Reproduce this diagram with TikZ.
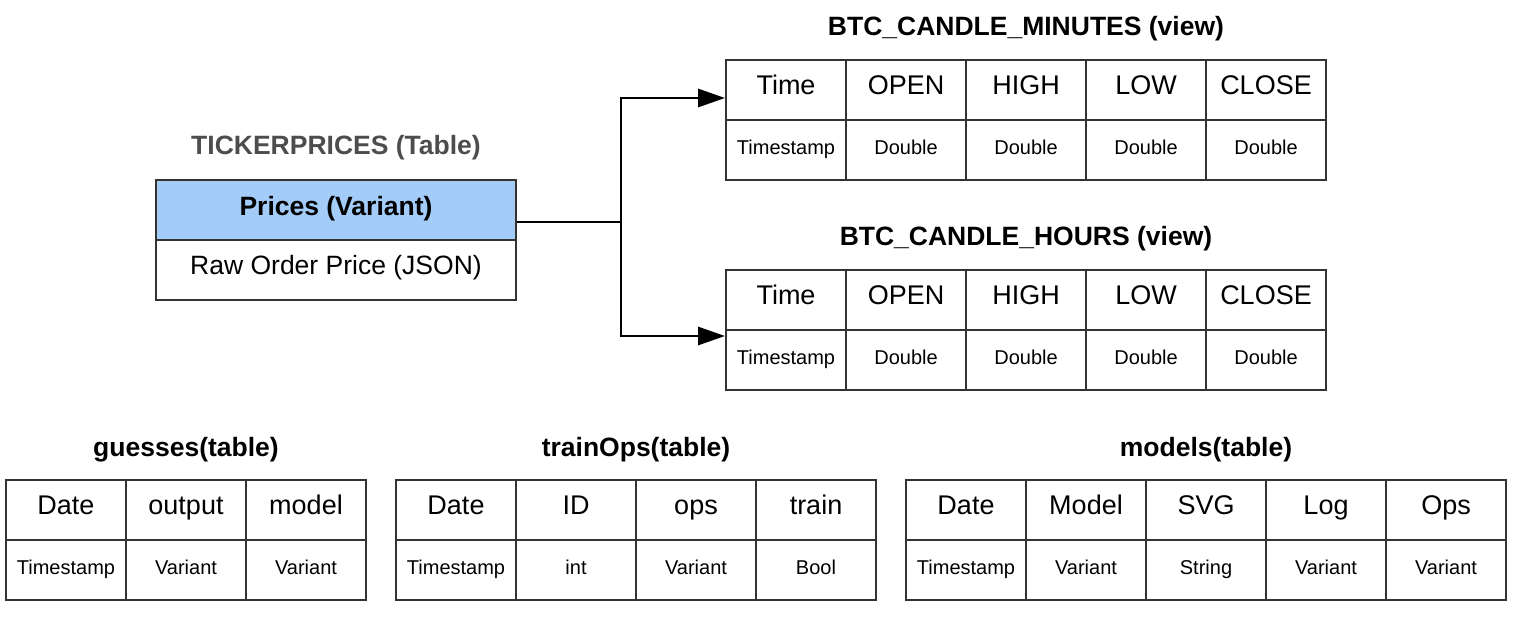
\documentclass[tikz,border=0pt]{standalone}
\usepackage{fontspec}
\setmainfont{Liberation Sans}
\usetikzlibrary{arrows.meta}
\definecolor{gridline}{HTML}{333333}
\definecolor{rowblue}{HTML}{A4CCF9}
\definecolor{titlegray}{HTML}{4D4D4D}

% one table: name, left x, top y, list of column/type pairs
\newcommand\dbtable[4]{%
  \foreach \h/\t [count=\i from 0] in {#4}{%
    \node[headcell] (#1-h\i) at ({#2+60+120*\i},{#3+30}) {\h};
    \node[typecell] (#1-t\i) at ({#2+60+120*\i},{#3+90}) {\t};
  }}

\begin{document}
\begin{tikzpicture}[x=1pt,y=-1pt,
  cell/.style={draw=gridline,line width=1.9pt,rectangle,inner sep=0pt,
    minimum width=120pt,minimum height=60pt,text height=20pt,text depth=12pt},
  headcell/.style={cell,font=\fontsize{27}{31}\selectfont},
  typecell/.style={cell,font=\fontsize{20}{24}\selectfont},
  tabletitle/.style={anchor=base,inner sep=0pt,font=\bfseries\fontsize{26.5}{30}\selectfont},
  wire/.style={line width=2.9pt,black},
  link/.style={wire,-{Triangle[length=27pt,width=18pt]}},
]
\useasboundingbox (0,0) rectangle (1514,616);

% source table
\node[tabletitle,text=titlegray,font=\bfseries\fontsize{26.5}{30}\selectfont]
  (tptitle) at (336,154) {TICKERPRICES (Table)};
\node[cell,fill=rowblue,minimum width=360pt,text height=22pt,text depth=12pt,
  font=\bfseries\fontsize{26.5}{30}\selectfont] (prices) at (336,210) {Prices (Variant)};
\node[cell,minimum width=360pt,text height=20pt,text depth=12pt,
  font=\fontsize{26.5}{30}\selectfont] (raw) at (336,270) {Raw Order Price (JSON)};

% candle views
\node[tabletitle] (mintitle) at (1026,35) {BTC\_CANDLE\_MINUTES (view)};
\dbtable{min}{726}{60}{Time/Timestamp,OPEN/Double,HIGH/Double,LOW/Double,CLOSE/Double}
\node[tabletitle] (hrstitle) at (1026,245) {BTC\_CANDLE\_HOURS (view)};
\dbtable{hrs}{726}{270}{Time/Timestamp,OPEN/Double,HIGH/Double,LOW/Double,CLOSE/Double}

% lower tables
\node[tabletitle] (guesstitle) at (186,456) {guesses(table)};
\dbtable{guess}{6}{480}{Date/Timestamp,output/Variant,model/Variant}
\node[tabletitle] (traintitle) at (636,456) {trainOps(table)};
\dbtable{train}{396}{480}{Date/Timestamp,ID/int,ops/Variant,train/Bool}
\node[tabletitle] (modeltitle) at (1206,456) {models(table)};
\dbtable{model}{906}{480}{Date/Timestamp,Model/Variant,SVG/String,Log/Variant,Ops/Variant}

% feed from prices into both views
\coordinate (fork) at (621,222);
\draw[wire] ([yshift=-12pt]prices.east) -- (fork);
\draw[link] (fork) |- ([yshift=-8pt]min-h0.west);
\draw[link] (fork) |- ([yshift=-36pt]hrs-h0.west);
\end{tikzpicture}
\end{document}
